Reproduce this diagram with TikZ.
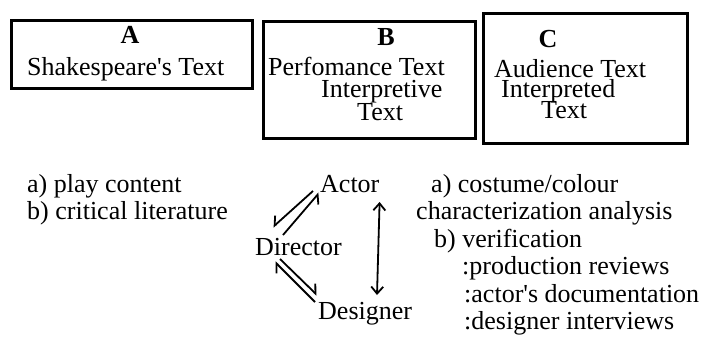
\documentclass[tikz,border=0pt]{standalone}
\usepackage{fontspec}
\setmainfont{Liberation Serif}[Ligatures=TeXOff]
\usetikzlibrary{arrows.meta}

\begin{document}
\begin{tikzpicture}[x=1pt,y=-1pt,
  frame/.style={draw, line width=3pt, inner sep=0pt},
  txt/.style={inner sep=0pt, anchor=base west, font=\fontsize{26}{30}\selectfont},
  head/.style={inner sep=0pt, anchor=base, font=\fontsize{26}{30}\selectfont\bfseries},
  linkl/.style={line width=1.8pt, -{Straight Barb[harpoon,length=7pt,width=14pt]}},
  linkr/.style={line width=1.8pt, -{Straight Barb[harpoon,swap,length=7pt,width=14pt]}},
  both/.style={line width=1.8pt, {Straight Barb[length=7pt,width=12pt]}-{Straight Barb[length=7pt,width=12pt]}}
]
\useasboundingbox (0,0) rectangle (706,354);

% the three text boxes
\node[frame, minimum width=241pt, minimum height=68pt]  (boxA) at (131.5,54) {};
\node[frame, minimum width=212pt, minimum height=117pt] (boxB) at (369,79.5) {};
\node[frame, minimum width=204pt, minimum height=130pt] (boxC) at (585,78) {};

\node[head] (hA) at (130,43) {A};
\node[txt] (tA1) at (27,75) {Shakespeare's Text};

\node[head] (hB) at (386,45) {B};
\node[txt] (tB1) at (268,75) {Perfomance Text};
\node[txt] (tB2) at (321,97) {Interpretive};
\node[txt] (tB3) at (357,120) {Text};

\node[head] (hC) at (548,47) {C};
\node[txt] (tC1) at (494,77) {Audience Text};
\node[txt] (tC2) at (501,97) {Interpreted};
\node[txt] (tC3) at (541,118) {Text};

% sources on the left
\node[txt] (la) at (27,192) {a) play content};
\node[txt] (lb) at (27,219) {b) critical literature};

% the production triangle
\node[txt] (act) at (320,192) {Actor};
\node[txt] (dir) at (255,255) {Director};
\node[txt] (des) at (318,319) {Designer};

\draw[linkr] ([shift={(-7,-1)}]act.base west) -- ([shift={(18,-28)}]dir.base west);
\draw[linkr] ([shift={(28,-20)}]dir.base west) -- ([shift={(-1,1)}]act.base west);
\draw[linkl] ([shift={(-3,-17)}]des.base west) -- ([shift={(20,7)}]dir.base west);
\draw[linkl] ([shift={(25,4)}]dir.base west) -- ([shift={(-1,-24)}]des.base west);
\draw[both] ([shift={(0,10)}]act.base east) -- ([shift={(59,-24)}]des.base west);

% evidence on the right
\node[txt] (ra) at (431,192) {a) costume/colour};
\node[txt] (ra2) at (416,219) {characterization analysis};
\node[txt] (rb) at (434,247) {b) verification};
\node[txt] (rb1) at (462,274) {:production reviews};
\node[txt] (rb2) at (464,302) {:actor's documentation};
\node[txt] (rb3) at (464,329) {:designer interviews};
\end{tikzpicture}
\end{document}
